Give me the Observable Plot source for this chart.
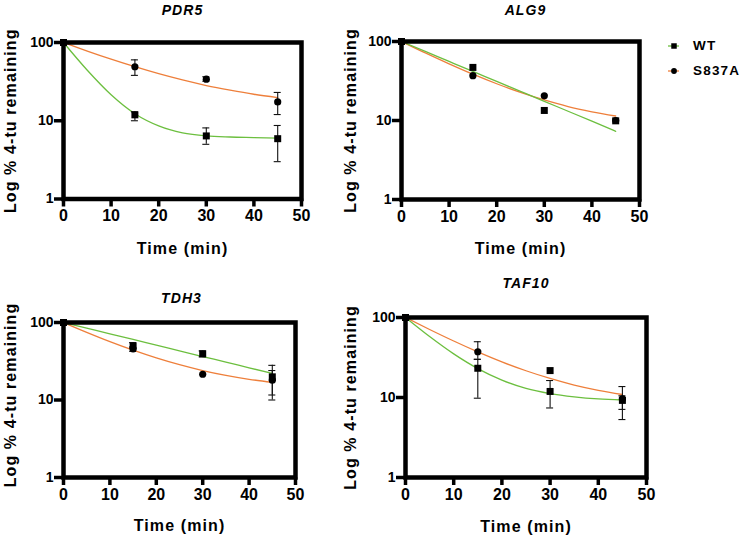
<!DOCTYPE html>
<html>
<head>
<meta charset="utf-8">
<script src="https://cdn.jsdelivr.net/npm/d3@7"></script>
<script src="https://cdn.jsdelivr.net/npm/@observablehq/plot@0.6"></script>
<style>
  body { margin: 0; background: #fff; }
  #chart { position: relative; width: 742px; height: 538px; overflow: hidden; background: #fff;
           font-family: "Liberation Sans", Arial, sans-serif; }
  #chart svg.panel { position: absolute; left: 0; top: 0; }
  .legend-row { position: absolute; height: 16px; }
  .legend-row svg { position: absolute; left: 0; top: 0; }
  .legend-row span { position: absolute; left: 31px; top: 0; line-height: 16px; font-size: 13.5px;
                     font-weight: bold; letter-spacing: 1.2px; color: #000; white-space: nowrap; }
</style>
</head>
<body>
<div id="chart"></div>
<script>
// ---------- data ----------
const times = [0, 15, 30, 45];
const fitTimes = [0, 5, 10, 15, 20, 25, 30, 35, 40, 45];
const xTicks = [0, 10, 20, 30, 40, 50];
const yTicks = [1, 10, 100];
const seriesNames = ["WT", "S837A"];
const geneNames = ["PDR5", "ALG9", "TDH3", "TAF10"];
const xLabel = "Time (min)";
const yLabel = "Log % 4-tu remaining";

// PDR5
const pdr5WT = [100, 11.9, 6.4, 5.9];
const pdr5WTLow = [null, 10.0, 5.0, 3.0];
const pdr5WTHigh = [null, 13.0, 8.1, 8.7];
const pdr5S837A = [100, 49, 34, 17.4];
const pdr5S837ALow = [null, 38, 32, 12];
const pdr5S837AHigh = [null, 60, 36.5, 23];
const pdr5WTFit = [100, 44.2, 21.5, 12.3, 8.6, 7.0, 6.4, 6.2, 6.1, 6.0];
const pdr5S837AFit = [100, 77.7, 61.2, 49.0, 39.9, 33.2, 28.2, 24.6, 21.8, 19.8];

// ALG9
const alg9WT = [100, 47, 13.4, 9.9];
const alg9WTLow = [null, null, null, null];
const alg9WTHigh = [null, null, null, null];
const alg9S837A = [100, 36.9, 20.5, 10];
const alg9S837ALow = [null, null, null, null];
const alg9S837AHigh = [null, null, null, null];
const alg9WTFit = [100, 74.8, 55.9, 41.8, 31.3, 23.4, 17.5, 13.1, 9.8, 7.3];
const alg9S837AFit = [100, 71.7, 52.2, 38.6, 29.2, 22.7, 18.2, 15.0, 12.9, 11.4];

// TDH3
const tdh3WT = [100, 50, 39.5, 19.9];
const tdh3WTLow = [null, 47, 36, 11.6];
const tdh3WTHigh = [null, 55, 43, 28];
const tdh3S837A = [100, 45.5, 21.5, 18];
const tdh3S837ALow = [null, 42.5, null, 10];
const tdh3S837AHigh = [null, 48.5, null, 24];
const tdh3WTFit = [100, 84.5, 71.4, 60.4, 51.0, 43.1, 36.4, 30.8, 26.0, 22.0];
const tdh3S837AFit = [100, 74.7, 56.7, 44.0, 35.0, 28.6, 24.0, 20.8, 18.5, 16.9];

// TAF10
const taf10WT = [100, 23.2, 11.9, 9.2];
const taf10WTLow = [null, 9.8, 7.4, 5.3];
const taf10WTHigh = [null, 30, 16.3, 13.7];
const taf10S837A = [100, 37.3, 21.7, 9.6];
const taf10S837ALow = [null, 30, null, 7.1];
const taf10S837AHigh = [null, 49.8, null, 10.5];
const taf10WTFit = [100, 57.8, 35.1, 23.0, 16.5, 13.0, 11.2, 10.2, 9.6, 9.3];
const taf10S837AFit = [100, 70.8, 50.8, 37.2, 27.9, 21.6, 17.3, 14.3, 12.3, 10.9];
// in the reference, TAF10's 30-min S837A point is drawn with a square marker
const taf10S837ASquareTimes = [30];

// ---------- styling / layout ----------
const seriesColors = {WT: "#6cbf3f", S837A: "#ee7f3b"};
const fontFamily = "'Liberation Sans', Arial, sans-serif";
const W = 742, H = 538;

const panels = [
  {gene: geneNames[0], wt: [pdr5WT, pdr5WTLow, pdr5WTHigh, pdr5WTFit],
   s: [pdr5S837A, pdr5S837ALow, pdr5S837AHigh, pdr5S837AFit], squareS: [],
   frame: {left: 63, right: 301, top: 42, bottom: 198.5}, titleDx: 0, titleDy: -32, xLabDy: 50, yLabDx: -53, yLabDy: 0},
  {gene: geneNames[1], wt: [alg9WT, alg9WTLow, alg9WTHigh, alg9WTFit],
   s: [alg9S837A, alg9S837ALow, alg9S837AHigh, alg9S837AFit], squareS: [],
   frame: {left: 401, right: 639, top: 41, bottom: 199}, titleDx: 5, titleDy: -31, xLabDy: 49.5, yLabDx: -51, yLabDy: 0},
  {gene: geneNames[2], wt: [tdh3WT, tdh3WTLow, tdh3WTHigh, tdh3WTFit],
   s: [tdh3S837A, tdh3S837ALow, tdh3S837AHigh, tdh3S837AFit], squareS: [],
   frame: {left: 63, right: 295, top: 322, bottom: 477}, titleDx: 2, titleDy: -24, xLabDy: 48, yLabDx: -53, yLabDy: -5},
  {gene: geneNames[3], wt: [taf10WT, taf10WTLow, taf10WTHigh, taf10WTFit],
   s: [taf10S837A, taf10S837ALow, taf10S837AHigh, taf10S837AFit], squareS: taf10S837ASquareTimes,
   frame: {left: 405, right: 646, top: 317, bottom: 477}, titleDx: 0, titleDy: -34, xLabDy: 49.5, yLabDx: -55, yLabDy: 0}
];

const chart = document.getElementById("chart");

function drawPanel(p) {
  const points = [], errors = [], fits = [];
  const defs = [{name: seriesNames[0], arr: p.wt, squares: times}, {name: seriesNames[1], arr: p.s, squares: p.squareS}];
  for (const d of defs) {
    const [mean, low, high, fit] = d.arr;
    times.forEach((t, i) => {
      points.push({t, v: mean[i], series: d.name, square: d.name === "WT" || d.squares.includes(t)});
      if (low[i] != null && high[i] != null) errors.push({t, lo: low[i], hi: high[i]});
    });
    fitTimes.forEach((t, i) => fits.push({t, v: fit[i], series: d.name}));
  }
  const caps = errors.flatMap(e => [{t: e.t, v: e.lo}, {t: e.t, v: e.hi}]);
  const f = p.frame;
  const svg = Plot.plot({
    width: W, height: H,
    marginLeft: f.left, marginRight: W - f.right, marginTop: f.top, marginBottom: H - f.bottom,
    style: {fontFamily, fontWeight: "bold", fontSize: "14px", color: "#000", background: "transparent", overflow: "visible"},
    x: {domain: [0, 50]},
    y: {type: "log", domain: [1, 100]},
    marks: [
      Plot.line(fits.filter(d => d.series === "S837A"), {x: "t", y: "v", stroke: seriesColors.S837A, strokeWidth: 1.3, curve: "monotone-x"}),
      Plot.line(fits.filter(d => d.series === "WT"), {x: "t", y: "v", stroke: seriesColors.WT, strokeWidth: 1.3, curve: "monotone-x"}),
      Plot.ruleX(errors, {x: "t", y1: "lo", y2: "hi", stroke: "#111", strokeWidth: 1.1}),
      Plot.ruleY(caps, {y: "v", x1: "t", x2: "t", insetLeft: -3.5, insetRight: -3.5, stroke: "#111", strokeWidth: 1.1}),
      Plot.dot(points.filter(d => d.series === "S837A" && !d.square), {x: "t", y: "v", symbol: "circle", r: 3.6, fill: "#000", stroke: "none"}),
      Plot.dot(points.filter(d => d.series === "S837A" && d.square), {x: "t", y: "v", symbol: "square", r: 3.95, fill: "#000", stroke: "none"}),
      Plot.dot(points.filter(d => d.series === "WT"), {x: "t", y: "v", symbol: "square", r: 3.95, fill: "#000", stroke: "none"}),
      Plot.frame({stroke: "#000", strokeWidth: 4.5}),
      Plot.axisX({ticks: xTicks, tickFormat: d => String(d), tickSize: 8, tickPadding: 3, strokeWidth: 3.5, fontSize: 16, label: null}),
      Plot.axisY({ticks: yTicks, tickFormat: d => String(d), tickSize: 9, tickPadding: 1, strokeWidth: 3.5, fontSize: 14, label: null}),
      Plot.text([p.gene], {text: d => d, frameAnchor: "top", textAnchor: "middle", lineAnchor: "middle", dx: p.titleDx, dy: p.titleDy, fontSize: 14, fontStyle: "italic", fontWeight: "bold"}),
      Plot.text([xLabel], {text: d => d, frameAnchor: "bottom", textAnchor: "middle", lineAnchor: "middle", dy: p.xLabDy, fontSize: 16, fontWeight: "bold"}),
      Plot.text([yLabel], {text: d => d, frameAnchor: "left", textAnchor: "middle", lineAnchor: "middle", rotate: -90, dx: p.yLabDx, dy: p.yLabDy, fontSize: 16, fontWeight: "bold"})
    ]
  });
  svg.classList.add("panel");
  d3.select(svg).selectAll('g[aria-label="text"] text').attr("letter-spacing", "1.1px");
  chart.appendChild(svg);
}

panels.forEach(drawPanel);

// ---------- legend ----------
const legendRows = [
  {name: seriesNames[0], cy: 46, symbol: "square"},
  {name: seriesNames[1], cy: 71, symbol: "circle"}
];
for (const row of legendRows) {
  const div = d3.select(chart).append("div").attr("class", "legend-row")
    .style("left", "662px").style("top", (row.cy - 8) + "px").style("width", "80px");
  const s = div.append("svg").attr("width", 24).attr("height", 16);
  s.append("line").attr("x1", 6).attr("x2", 17).attr("y1", 8).attr("y2", 8)
    .attr("stroke", seriesColors[row.name]).attr("stroke-width", 1.3);
  s.append("path").attr("transform", "translate(12,8)")
    .attr("d", d3.symbol(row.symbol === "square" ? d3.symbolSquare : d3.symbolCircle, row.symbol === "square" ? 30 : 26)())
    .attr("fill", "#000");
  div.append("span").text(row.name);
}
</script>
</body>
</html>
